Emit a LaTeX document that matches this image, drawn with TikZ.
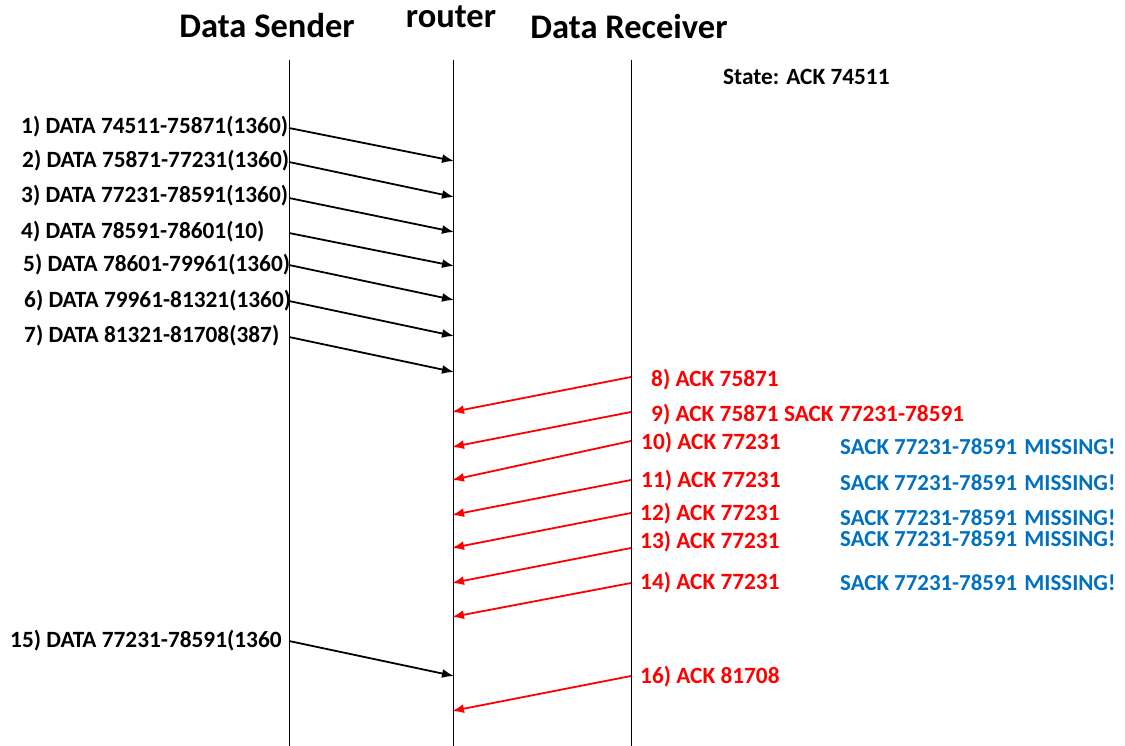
\documentclass[tikz,border=0pt]{standalone}
\usepackage{fontspec}
\setmainfont{Carlito}
\usetikzlibrary{arrows.meta}
\definecolor{ackred}{RGB}{255,0,0}
\definecolor{sackblue}{RGB}{0,112,192}
\newcommand{\missmsg}{SACK 77231-78591\hspace{2pt} MISSING!}
\begin{document}
\begin{tikzpicture}[x=1pt,y=-1pt,
  lbl/.style={font=\bfseries\fontsize{23.3}{25}\selectfont, inner sep=0pt, anchor=base west},
  title/.style={font=\bfseries\fontsize{34.5}{37}\selectfont, inner sep=0pt, anchor=base},
  redlbl/.style={lbl, text=ackred},
  bluelbl/.style={lbl, text=sackblue, font=\bfseries\fontsize{22.9}{25}\selectfont},
  life/.style={draw=black, line width=1pt},
  dmsg/.style={draw=black, line width=1.8pt, -{Latex[length=12pt,width=9pt]}},
  amsg/.style={draw=ackred, line width=1.8pt, -{Latex[length=12pt,width=9pt]}}]
\useasboundingbox (0,0) rectangle (1125,746);
% titles
\node[title] (tS) at (267,38) {Data Sender};
\node[title] (tR) at (451,28) {router};
\node[title] (tD) at (629,39) {Data Receiver};
\node[lbl] (state) at (723,85) {State: ACK 74511};
% lifelines
\coordinate (s0) at (289,60); \coordinate (s1) at (289,746);
\coordinate (r0) at (453,60); \coordinate (r1) at (453,746);
\coordinate (d0) at (631,60); \coordinate (d1) at (631,746);
\draw[life] (s0) -- (s1);
\draw[life] (r0) -- (r1);
\draw[life] (d0) -- (d1);
% data labels
\node[lbl] (l1) at (21,134) {1) DATA 74511-75871(1360)};
\node[lbl] (l2) at (22,168) {2) DATA 75871-77231(1360)};
\node[lbl] (l3) at (21,203) {3) DATA 77231-78591(1360)};
\node[lbl] (l4) at (21,239) {4) DATA 78591-78601(10)};
\node[lbl] (l5) at (23,272) {5) DATA 78601-79961(1360)};
\node[lbl] (l6) at (24,307) {6) DATA 79961-81321(1360)};
\node[lbl] (l7) at (24,342) {7) DATA 81321-81708(387)};
\node[lbl] (l15) at (10,647) {15) DATA 77231-78591(1360};
% data arrows
\coordinate (a1s) at (289,128); \coordinate (a1e) at (454,161);
\coordinate (a2s) at (289,162); \coordinate (a2e) at (454,197);
\coordinate (a3s) at (289,198); \coordinate (a3e) at (454,232);
\coordinate (a4s) at (289,233); \coordinate (a4e) at (454,266);
\coordinate (a5s) at (289,265); \coordinate (a5e) at (454,300);
\coordinate (a6s) at (289,301); \coordinate (a6e) at (454,336);
\coordinate (a7s) at (289,337); \coordinate (a7e) at (454,372);
\coordinate (a15s) at (289,641); \coordinate (a15e) at (454,676);
\foreach \i in {1,...,7,15} \draw[dmsg] (a\i s) -- (a\i e);
% ack labels
\node[redlbl] (l8) at (651,386) {8) ACK 75871};
\node[redlbl] (l9) at (651,421) {9) ACK 75871 SACK 77231-78591};
\node[redlbl] (l10) at (641,449) {10) ACK 77231};
\node[redlbl] (l11) at (641,487) {11) ACK 77231};
\node[redlbl] (l12) at (640,520) {12) ACK 77231};
\node[redlbl] (l13) at (640,548) {13) ACK 77231};
\node[redlbl] (l14) at (640,589) {14) ACK 77231};
\node[redlbl] (l16) at (640,683) {16) ACK 81708};
% sack missing labels
\node[bluelbl] (m10) at (840,454) {\missmsg};
\node[bluelbl] (m11) at (840,490) {\missmsg};
\node[bluelbl] (m12) at (840,525) {\missmsg};
\node[bluelbl] (m13) at (840,546) {\missmsg};
\node[bluelbl] (m14) at (840,590) {\missmsg};
% ack arrows
\coordinate (b8s) at (631,377); \coordinate (b8e) at (452,412);
\coordinate (b9s) at (631,412); \coordinate (b9e) at (452,447);
\coordinate (b10s) at (631,441); \coordinate (b10e) at (452,480);
\coordinate (b11s) at (631,480); \coordinate (b11e) at (452,515);
\coordinate (b12s) at (631,513); \coordinate (b12e) at (452,548);
\coordinate (b13s) at (631,548); \coordinate (b13e) at (452,583);
\coordinate (b14s) at (631,583); \coordinate (b14e) at (452,617);
\coordinate (b16s) at (631,676); \coordinate (b16e) at (452,711);
\foreach \i in {8,...,14,16} \draw[amsg] (b\i s) -- (b\i e);
\end{tikzpicture}
\end{document}
